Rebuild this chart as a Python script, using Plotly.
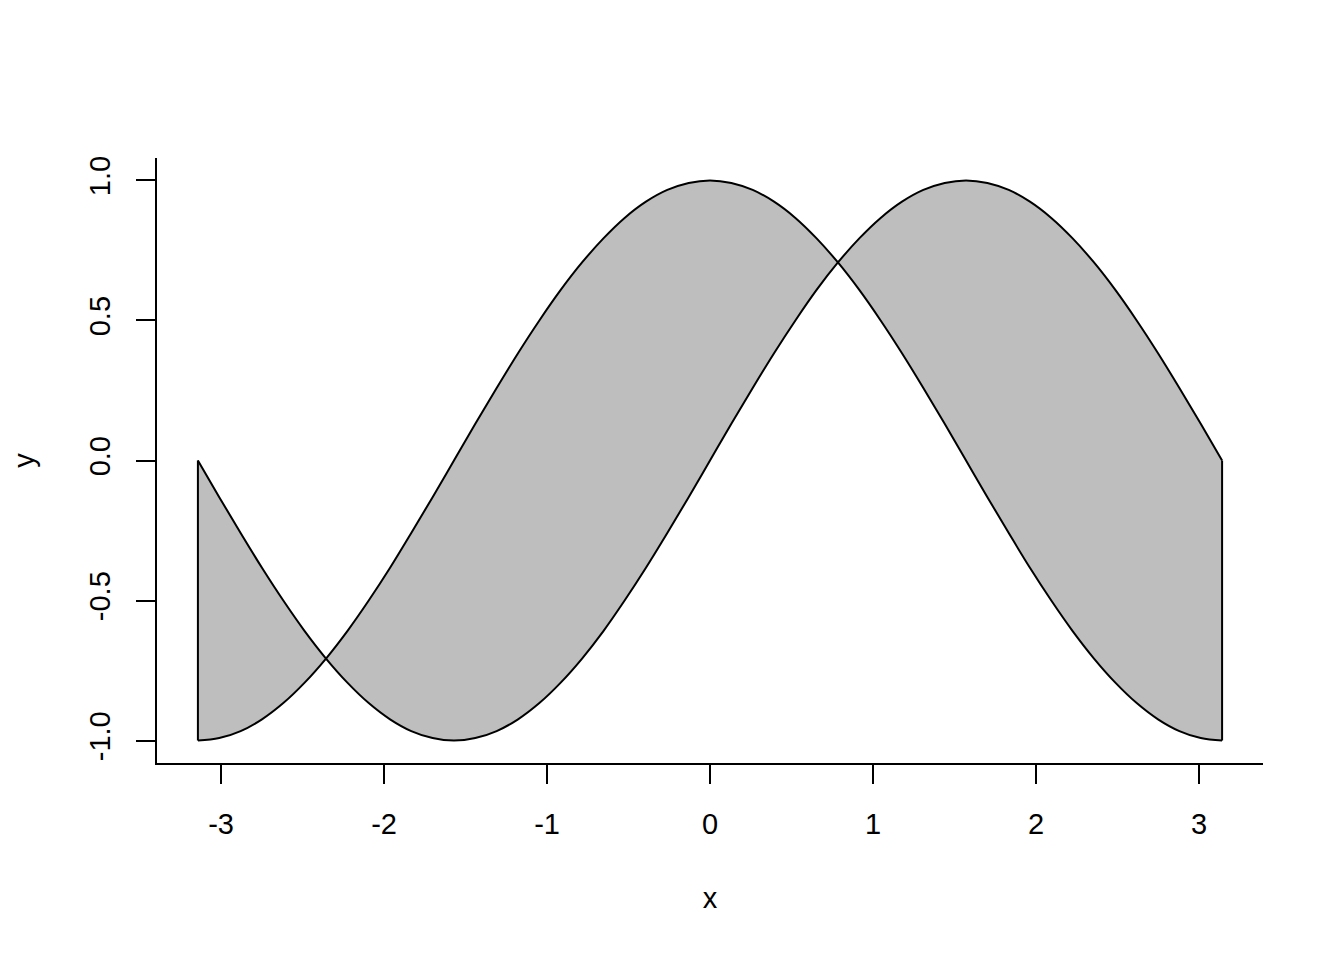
import plotly.graph_objects as go

# x positions (radians)
x = [-3.142, -3.011, -2.880, -2.749, -2.618, -2.487, -2.356, -2.225, -2.094, -1.963,
     -1.833, -1.702, -1.571, -1.440, -1.309, -1.178, -1.047, -0.916, -0.785, -0.654,
     -0.524, -0.393, -0.262, -0.131, 0.0, 0.131, 0.262, 0.393, 0.524, 0.654,
     0.785, 0.916, 1.047, 1.178, 1.309, 1.440, 1.571, 1.702, 1.833, 1.963,
     2.094, 2.225, 2.356, 2.487, 2.618, 2.749, 2.880, 3.011, 3.142]

# first curve (starts at 0, dips to -1, peaks at +1, back to 0)
y_sin = [0.0, -0.131, -0.259, -0.383, -0.5, -0.609, -0.707, -0.793, -0.866, -0.924,
         -0.966, -0.991, -1.0, -0.991, -0.966, -0.924, -0.866, -0.793, -0.707, -0.609,
         -0.5, -0.383, -0.259, -0.131, 0.0, 0.131, 0.259, 0.383, 0.5, 0.609,
         0.707, 0.793, 0.866, 0.924, 0.966, 0.991, 1.0, 0.991, 0.966, 0.924,
         0.866, 0.793, 0.707, 0.609, 0.5, 0.383, 0.259, 0.131, 0.0]

# second curve (starts at -1, peaks at +1 at 0, back to -1)
y_cos = [-1.0, -0.991, -0.966, -0.924, -0.866, -0.793, -0.707, -0.609, -0.5, -0.383,
         -0.259, -0.131, 0.0, 0.131, 0.259, 0.383, 0.5, 0.609, 0.707, 0.793,
         0.866, 0.924, 0.966, 0.991, 1.0, 0.991, 0.966, 0.924, 0.866, 0.793,
         0.707, 0.609, 0.5, 0.383, 0.259, 0.131, 0.0, -0.131, -0.259, -0.383,
         -0.5, -0.609, -0.707, -0.793, -0.866, -0.924, -0.966, -0.991, -1.0]

x_ticks = [-3, -2, -1, 0, 1, 2, 3]
y_ticks = [-1.0, -0.5, 0.0, 0.5, 1.0]
y_tick_labels = ["-1.0", "-0.5", "0.0", "0.5", "1.0"]

FONT = "Liberation Sans, Arial, Helvetica, sans-serif"
FS = 29
LW = 2

fig = go.Figure()

# polygon fill: first curve forward, second curve reversed
poly_x = x + x[::-1] + [x[0]]
poly_y = y_sin + y_cos[::-1] + [y_sin[0]]
fig.add_trace(go.Scatter(
    x=poly_x, y=poly_y, mode="lines", fill="toself",
    fillcolor="#BEBEBE", line=dict(color="rgba(0,0,0,0)", width=0),
    hoverinfo="skip", showlegend=False))

# vertical polygon edges at both ends
for i in (0, len(x) - 1):
    fig.add_trace(go.Scatter(x=[x[i], x[i]], y=[y_sin[i], y_cos[i]], mode="lines",
                             line=dict(color="black", width=LW), showlegend=False))

fig.add_trace(go.Scatter(x=x, y=y_sin, mode="lines", line_shape="spline",
                         line=dict(color="black", width=LW), showlegend=False))
fig.add_trace(go.Scatter(x=x, y=y_cos, mode="lines", line_shape="spline",
                         line=dict(color="black", width=LW), showlegend=False))

# page body has an 8px default margin, so the figure is sized to compensate
fig.update_layout(
    width=1336, height=952,
    paper_bgcolor="white", plot_bgcolor="white",
    margin=dict(l=149, r=81, t=150, b=197),
    font=dict(family=FONT, size=FS, color="black"),
    showlegend=False,
)

fig.update_xaxes(
    range=[-3.393, 3.393], showgrid=False, zeroline=False, automargin=False,
    showline=True, linecolor="black", linewidth=1.8,
    ticks="outside", ticklen=19, tickwidth=1.8, tickcolor="black",
    tickvals=x_ticks, ticktext=[str(v) for v in x_ticks],
    tickfont=dict(family=FONT, size=FS), ticklabelstandoff=15,
    title=dict(text="x", font=dict(family=FONT, size=FS), standoff=49),
)
fig.update_yaxes(
    range=[-1.08, 1.08], showgrid=False, zeroline=False, automargin=False,
    showline=True, linecolor="black", linewidth=1.8,
    ticks="outside", ticklen=19, tickwidth=1.8, tickcolor="black",
    tickvals=y_ticks, ticktext=y_tick_labels, tickangle=-90,
    tickfont=dict(family=FONT, size=FS), ticklabelstandoff=15,
    title=dict(text="y", font=dict(family=FONT, size=FS), standoff=45),
)

fig.write_html("out.html")
